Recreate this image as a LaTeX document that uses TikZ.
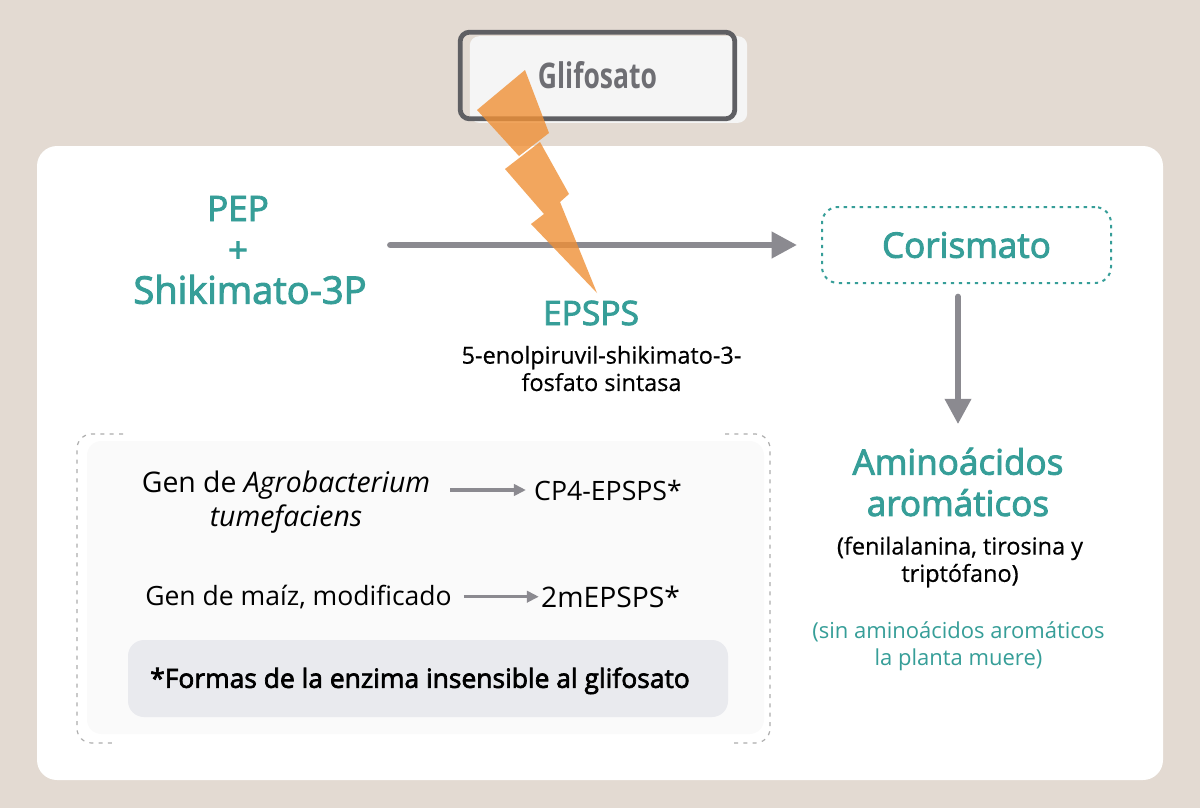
\documentclass[tikz,border=0pt]{standalone}
\usepackage{fontspec}
\usetikzlibrary{arrows.meta}
\setmainfont{Open Sans}
\newfontfamily\semifont[FakeBold=2.6]{Open Sans}
\newfontfamily\medfont[FakeBold=0.5]{Open Sans}
\newfontfamily\condfont[FakeStretch=0.75]{Open Sans}
\definecolor{bgbeige}{HTML}{E3DAD2}
\definecolor{tealtext}{HTML}{369E98}
\definecolor{arrowgray}{HTML}{8B8A90}
\definecolor{boltorange}{HTML}{EF9036}
\definecolor{darkoutline}{HTML}{5F5F63}
\definecolor{glitext}{HTML}{6E6E73}
\definecolor{notefill}{HTML}{E9EAEE}
\tikzset{
 teallabel/.style={text=tealtext,align=center,inner sep=0pt,font=\semifont\fontsize{26.3}{31}\selectfont},
 plainlabel/.style={align=center,inner sep=0pt,font=\medfont\fontsize{17.6}{20.5}\selectfont},
 genlabel/.style={align=center,inner sep=0pt,font=\fontsize{20.5}{25}\selectfont},
 bigarrow/.style={draw=arrowgray,line width=4.5pt,line cap=round,-{Triangle[length=19pt,width=19pt]}},
 smallarrow/.style={draw=arrowgray,line width=2.6pt,-{Triangle[length=9pt,width=8.5pt]}},
 bolt/.style={fill=boltorange,fill opacity=.8},
 bracket/.style={draw=black!32,line width=.9pt,dash pattern=on 3pt off 4pt,rounded corners=11pt},
}
\begin{document}
\begin{tikzpicture}[x=0.75pt,y=-0.75pt]
 \useasboundingbox (0,0) rectangle (1200,808);
 \fill[bgbeige] (0,0) rectangle (1200,808);
 \node[fill=white,rounded corners=15pt,minimum width=844.5pt,minimum height=475.5pt,inner sep=0pt] (panel) at (600,463) {};

 % glifosato box
 \node[fill=black!4,rounded corners=7pt,minimum width=208pt,minimum height=65pt,inner sep=0pt] (glishadow) at (608.5,79.5) {};
 \node[draw=darkoutline,line width=3.6pt,rounded corners=7pt,minimum width=206pt,minimum height=65pt,inner sep=0pt,
  text=glitext,font=\condfont\bfseries\fontsize{26.5}{28}\selectfont] (gli) at (597.5,75.5) {Glifosato};

 % inner panel
 \node[fill=black!2,rounded corners=11pt,minimum width=507.75pt,minimum height=219.75pt,inner sep=0pt] (genpanel) at (425.5,587.5) {};
 \draw[bracket] (123,434) -- (77,434) -- (77,743) -- (115,743);
 \draw[bracket] (725,434) -- (770,434) -- (770,743) -- (732,743);
 \node[fill=notefill,rounded corners=12pt,minimum width=450pt,minimum height=57.75pt,inner sep=0pt,
  font=\semifont\fontsize{19.8}{22}\selectfont] (note) at (428,678.5) {\raisebox{-2.5pt}[14pt][5pt]{*Formas de la enzima insensible al glifosato}\hspace*{12pt}};

 % labels
 \node[teallabel] (pep) at (250,250) {PEP\hspace*{18pt}\\\mbox{+\hspace{18pt}}\\\fontsize{28.5}{31}\selectfont Shikimato-3P};
 \node[teallabel,font=\semifont\fontsize{25.2}{31}\selectfont] (epsps) at (591,313) {EPSPS};
 \node[plainlabel] (enzima) at (601.5,368.5) {5-enolpiruvil-shikimato-3-\\fosfato sintasa};
 \node[draw=tealtext,line width=1.5pt,dash pattern=on 2.5pt off 3.5pt,rounded corners=12pt,minimum width=216.75pt,minimum height=57pt,inner sep=0pt,
  text=tealtext,font=\semifont\fontsize{26.3}{31}\selectfont] (coris) at (966.5,245) {Corismato};
 \node[teallabel] (amino) at (958,482) {Aminoácidos\\aromáticos};
 \node[plainlabel] (lista) at (960,562) {(fenilalanina, tirosina y\\triptófano)};
 \node[plainlabel,text=tealtext,font=\fontsize{16.5}{20}\selectfont] (muere) at (958.5,646) {(sin aminoácidos aromáticos\\la planta muere)};

 \node[genlabel,font=\fontsize{21.3}{26}\selectfont] (gen1) at (286,502) {Gen de \textit{Agrobacterium}\\\textit{tumefaciens}};
 \node[genlabel,font=\fontsize{20}{25}\selectfont] (cp4) at (608,490) {CP4-EPSPS*};
 \node[genlabel,font=\fontsize{19.9}{25}\selectfont] (gen2) at (298.5,596.7) {Gen de maíz, modificado};
 \node[genlabel,font=\fontsize{21.2}{25}\selectfont] (mepsps) at (610.5,596.7) {2mEPSPS*};

 % arrows
 \draw[bigarrow,shorten <=17.5pt,shorten >=18pt] (pep.east |- coris.west) -- (coris.west);
 \draw[bigarrow,shorten <=9.5pt,shorten >=17.5pt] (amino.north |- coris.south) -- (amino.north);
 \draw[smallarrow,shorten <=15pt,shorten >=6pt] (gen1.east |- cp4.west) -- (cp4.west);
 \draw[smallarrow,shorten <=9pt,shorten >=1.5pt] (gen2.east) -- (mepsps.west);

 % rayo
 \fill[bolt] (525,70) -- (477,110) -- (519,156) -- (549,133) -- cycle;
 \fill[bolt] (540,142) -- (569,194) -- (560,202) -- (597,293) -- (531,224) -- (544,214) -- (505,169) -- cycle;
\end{tikzpicture}
\end{document}
